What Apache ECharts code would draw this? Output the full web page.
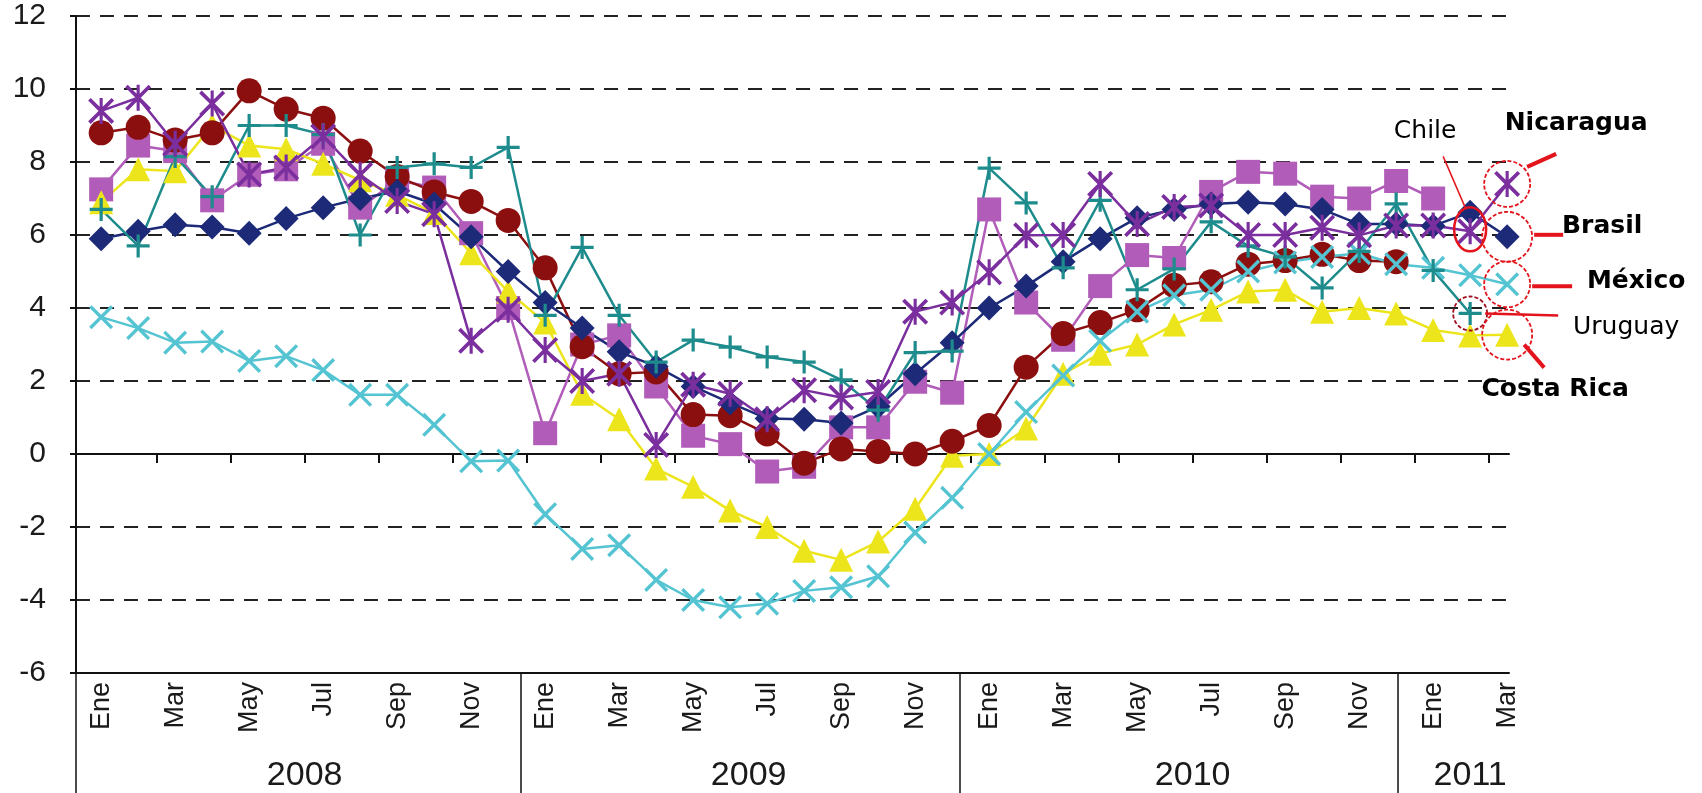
<!DOCTYPE html>
<html>
<head>
<meta charset="utf-8">
<script src="https://cdn.jsdelivr.net/npm/echarts@6/dist/echarts.min.js"></script>
<style>
html, body { margin: 0; padding: 0; background: #fff; }
#chart { width: 1702px; height: 793px; }
</style>
</head>
<body>
<div id="chart"></div>
<script>
// meses y años del eje (Ene 2008 - Mar 2011)
const monthNames = ['Ene', 'Feb', 'Mar', 'Abr', 'May', 'Jun', 'Jul', 'Ago', 'Sep', 'Oct', 'Nov', 'Dic'];
const years = ['2008', '2009', '2010', '2011'];
const monthsIn2011 = 3;
const yTicks = [-6, -4, -2, 0, 2, 4, 6, 8, 10, 12];

// series (variación %, lectura del gráfico)
const brasil = [
    5.9, 6.1, 6.28, 6.22, 6.05, 6.45, 6.75, 7.0, 7.2, 6.85, 5.95, 5.0,
    4.15, 3.45, 2.8, 2.4, 1.85, 1.4, 0.97, 0.95, 0.85, 1.3, 2.2, 3.05,
    4.0, 4.6, 5.27, 5.9, 6.47, 6.7, 6.85, 6.9, 6.85, 6.7, 6.3, 6.3,
    6.25, 6.62, 5.95
];
const chile = [
    8.8, 8.95, 8.6, 8.8, 9.95, 9.45, 9.2, 8.3, 7.6, 7.18, 6.92, 6.4,
    5.1, 2.94, 2.2, 2.25, 1.08, 1.05, 0.55, -0.25, 0.14, 0.07, 0.0, 0.35,
    0.78, 2.38, 3.3, 3.6, 3.95, 4.62, 4.72, 5.2, 5.3, 5.47, 5.3, 5.27,
    null, null, null
];
const otro = [
    7.25, 8.45, 8.3, 6.95, 7.65, 7.8, 8.5, 6.75, 7.5, 7.3, 6.05, 4.0,
    0.57, 3.0, 3.25, 1.85, 0.5, 0.27, -0.48, -0.35, 0.73, 0.73, 1.98, 1.68,
    6.7, 4.15, 3.13, 4.6, 5.45, 5.37, 7.18, 7.73, 7.68, 7.05, 7.0, 7.48,
    7.0, null, null
];
const costaRica = [
    6.9, 7.8, 7.75, 9.0, 8.45, 8.35, 7.95, 7.5, 7.1, 6.6, 5.5, 4.45,
    3.6, 1.65, 0.95, -0.4, -0.9, -1.55, -2.0, -2.65, -2.9, -2.4, -1.5, -0.05,
    0.0, 0.7, 2.2, 2.75, 3.0, 3.55, 3.95, 4.45, 4.5, 3.9, 4.0, 3.85,
    3.4, 3.25, 3.27
];
const mexico = [
    3.75, 3.45, 3.05, 3.08, 2.55, 2.68, 2.3, 1.62, 1.62, 0.8, -0.2, -0.18,
    -1.65, -2.6, -2.5, -3.45, -4.0, -4.2, -4.1, -3.75, -3.65, -3.35, -2.15, -1.2,
    0.0, 1.15, 2.15, 3.1, 3.9, 4.35, 4.5, 5.0, 5.25, 5.4, 5.5, 5.2,
    5.1, 4.9, 4.65
];
const uruguay = [
    6.7, 5.7, 8.15, 7.05, 9.0, 9.0, 8.75, 6.0, 7.85, 7.95, 7.85, 8.4,
    3.8, 5.66, 3.8, 2.52, 3.12, 2.93, 2.66, 2.52, 2.03, 1.2, 2.78, 2.82,
    7.83, 6.88, 5.1, 6.95, 4.5, 5.07, 6.36, 5.7, 5.4, 4.55, 5.55, 6.85,
    5.03, 3.85, null
];
const nicaragua = [
    9.4, 9.76, 8.5, 9.6, 7.66, 7.85, 8.7, 7.65, 6.93, 6.57, 3.1, 3.95,
    2.85, 2.0, 2.2, 0.25, 1.9, 1.65, 0.95, 1.75, 1.55, 1.7, 3.9, 4.15,
    4.98, 5.99, 6.0, 7.4, 6.3, 6.77, 6.81, 6.0, 6.0, 6.2, 5.99, 6.26,
    6.26, 6.1, 7.4
];

// etiquetas del eje: un mes sí y otro no
const periods = [];
years.forEach(function (y, k) {
    const n = k === years.length - 1 ? monthsIn2011 : 12;
    for (let m = 0; m < n; m++) periods.push({ year: y, month: monthNames[m] });
});
const monthLabelIdx = periods.map(function (p, i) { return i; }).filter(function (i) { return i % 2 === 0; });
const zeroTicks = periods.map(function (p, i) { return i + 0.5; }).filter(function (v, i) { return i % 2 === 1 && v < periods.length - 1; });
const yearCenters = years.map(function (y) {
    const idx = periods.map(function (p, i) { return p.year === y ? i : -1; }).filter(function (i) { return i >= 0; });
    return (idx[0] + idx[idx.length - 1]) / 2;
});

const X_MIN = -0.68, X_MAX = 38.05;
const yearEdges = [X_MIN, 11.35, 23.2, 35.05];

const AXIS_FONT = '"Liberation Sans", Arial, sans-serif';
const TEXT = '#1a1a1a';

// símbolos de trazo
const SYM_X = 'path://M0,1L1,0L5,4L9,0L10,1L6,5L10,9L9,10L5,6L1,10L0,9L4,5Z';
const SYM_PLUS = 'path://M4.3,0H5.7V4.3H10V5.7H5.7V10H4.3V5.7H0V4.3H4.3Z';
const SYM_STAR = 'path://M0,1L1,0L5,4L9,0L10,1L6,5L10,9L9,10L5,6L1,10L0,9L4,5Z M4.4,0H5.6V10H4.4Z';

function pts(arr) {
    return arr.map(function (v, i) { return [i, v]; }).filter(function (p) { return p[1] !== null; });
}

function lineSeries(name, arr, color, symbol, size) {
    return {
        name: name,
        type: 'line',
        data: pts(arr),
        xAxisIndex: 0,
        yAxisIndex: 0,
        symbol: symbol,
        symbolSize: size,
        showAllSymbol: true,
        lineStyle: { color: color, width: 2.5 },
        itemStyle: { color: color, borderWidth: 0 },
        emphasis: { disabled: true }
    };
}

const chart = echarts.init(document.getElementById('chart'));

const option = {
    animation: false,
    backgroundColor: '#fff',
    grid: { left: 76, right: 193, top: 16, bottom: 120 },
    xAxis: [
        {
            type: 'value', min: X_MIN, max: X_MAX, position: 'bottom',
            axisLine: { show: true, onZero: false, lineStyle: { color: '#111', width: 2 } },
            axisTick: { show: false },
            splitLine: { show: false },
            axisLabel: {
                customValues: monthLabelIdx,
                formatter: function (v) { return periods[Math.round(v)].month; },
                rotate: 90, margin: 9, padding: [12, 0, 0, 0],
                fontSize: 27, fontFamily: AXIS_FONT, color: TEXT
            }
        },
        {
            type: 'value', min: X_MIN, max: X_MAX, position: 'bottom',
            axisLine: { show: true, onZero: true, lineStyle: { color: '#111', width: 2 } },
            axisTick: { show: true, customValues: zeroTicks, length: 9, lineStyle: { color: '#111', width: 2 } },
            axisLabel: { show: false },
            splitLine: { show: false }
        },
        {
            type: 'value', min: X_MIN, max: X_MAX, position: 'bottom',
            axisLine: { show: false, onZero: false },
            axisTick: { show: true, customValues: yearEdges, length: 122, lineStyle: { color: '#111', width: 1.5 } },
            splitLine: { show: false },
            axisLabel: {
                customValues: yearCenters,
                formatter: function (v) {
                    let best = 0;
                    yearCenters.forEach(function (c, k) { if (Math.abs(c - v) < Math.abs(yearCenters[best] - v)) best = k; });
                    return years[best];
                },
                margin: 86,
                fontSize: 34, fontFamily: AXIS_FONT, color: TEXT
            }
        }
    ],
    yAxis: {
        type: 'value', min: yTicks[0], max: yTicks[yTicks.length - 1], interval: 2,
        axisLine: { show: true, onZero: false, lineStyle: { color: '#111', width: 2 } },
        axisTick: { show: true, length: 6, lineStyle: { color: '#111', width: 2 } },
        axisLabel: { fontSize: 30, fontFamily: AXIS_FONT, color: TEXT, margin: 30 },
        splitLine: { show: true, lineStyle: { color: '#222', width: 2, type: [14, 10] } }
    },
    series: [
        lineSeries('Otro', otro, '#b05cb8', 'rect', 24),
        lineSeries('Costa Rica', costaRica, '#ede51c', 'triangle', 24),
        lineSeries('Chile', chile, '#8c0f0f', 'circle', 25),
        lineSeries('Brasil', brasil, '#1c2a78', 'diamond', 25),
        lineSeries('México', mexico, '#55c4d2', SYM_X, 24),
        lineSeries('Uruguay', uruguay, '#1e8c8c', SYM_PLUS, 23),
        lineSeries('Nicaragua', nicaragua, '#7b2f9e', SYM_STAR, 26)
    ]
};
chart.setOption(option);

// anotaciones en rojo, ancladas al último punto de cada serie
const RED = '#e3141c';
const notes = [
    { text: 'Nicaragua', values: nicaragua, idx: 38, r: 23, line: [20, -17, 49, -30], lw: 4, label: [69, -60], bold: true },
    { text: 'Brasil', values: brasil, idx: 38, r: 25, line: [27, -2, 56, -2], lw: 4, label: [95, -10], bold: true },
    { text: 'México', values: mexico, idx: 38, r: 23, line: [25, 2, 65, 2], lw: 4, label: [129, -3], bold: true },
    { text: 'Uruguay', values: uruguay, idx: 37, r: 17, line: [15, 0, 88, 2], lw: 2.5, label: [156, 14], bold: false, thin: true },
    { text: 'Costa Rica', values: costaRica, idx: 38, r: 25, line: [17, 10, 37, 33], lw: 4, label: [48, 55], bold: true },
    { text: 'Chile', values: nicaragua, idx: 37, ellipse: [0, -2, 16, 22], line: [-27, -75, -5, -24], lw: 1.5, label: [-45, -100], bold: false }
];
const graphics = [];
notes.forEach(function (n) {
    const p = chart.convertToPixel({ xAxisIndex: 0, yAxisIndex: 0 }, [n.idx, n.values[n.idx]]);
    if (n.ellipse) {
        graphics.push({
            type: 'ellipse', silent: true, z: 100,
            shape: { cx: p[0] + n.ellipse[0], cy: p[1] + n.ellipse[1], rx: n.ellipse[2], ry: n.ellipse[3] },
            style: { fill: 'none', stroke: RED, lineWidth: 2.5 }
        });
    } else {
        graphics.push({
            type: 'circle', silent: true, z: 100,
            shape: { cx: p[0], cy: p[1], r: n.r },
            style: { fill: 'none', stroke: n.thin ? '#a01020' : RED, lineWidth: 1.8, lineDash: [4, 2] }
        });
    }
    graphics.push({
        type: 'line', silent: true, z: 100,
        shape: { x1: p[0] + n.line[0], y1: p[1] + n.line[1], x2: p[0] + n.line[2], y2: p[1] + n.line[3] },
        style: { stroke: RED, lineWidth: n.lw }
    });
    graphics.push({
        type: 'text', silent: true, z: 100,
        x: p[0] + n.label[0], y: p[1] + n.label[1],
        style: {
            text: n.text,
            font: (n.bold ? 'bold ' : '') + '25px "DejaVu Sans", sans-serif',
            fill: '#000', align: 'center', verticalAlign: 'middle'
        }
    });
});
chart.setOption({ graphic: graphics });
</script>
</body>
</html>
